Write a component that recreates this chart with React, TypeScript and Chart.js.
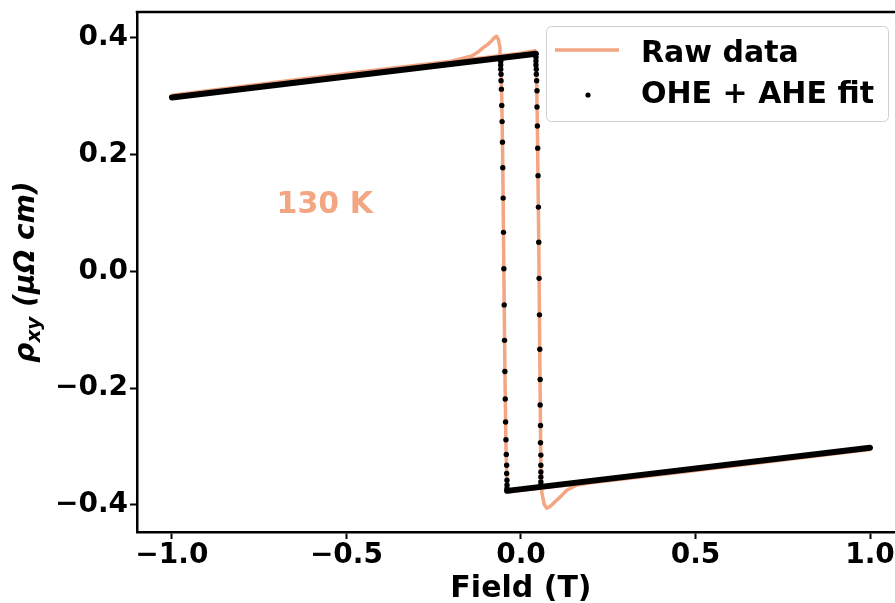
import React, { useEffect, useRef } from "react";
import { Chart, registerables } from "chart.js";

Chart.register(...registerables);

// ---------- data ----------
const rawX = [
  -1.0, -0.5, 0.0, 0.04, 0.044, 0.047, 0.051, 0.054, 0.057, 0.06, 0.067, 0.074, 0.085, 0.097, 0.115, 0.131, 0.16, 0.2, 0.5, 1.0,
  0.5, 0.0, -0.036, -0.04, -0.043, -0.046, -0.049, -0.052, -0.055, -0.058, -0.06, -0.065, -0.07, -0.077, -0.084, -0.095, -0.109, -0.125, -0.141, -0.2, -0.5, -1.0,
];
const rawY = [
  0.302, 0.338, 0.374, 0.378, 0.36, 0.25, 0.05, -0.15, -0.33, -0.38, -0.4, -0.406, -0.402, -0.395, -0.385, -0.375, -0.366, -0.362, -0.341, -0.305,
  -0.341, -0.375, -0.378, -0.36, -0.3, -0.17, 0.0, 0.18, 0.3, 0.36, 0.383, 0.398, 0.403, 0.4, 0.395, 0.389, 0.383, 0.375, 0.369, 0.36, 0.339, 0.302,
];

// fit: flat (saturated) parts, dense enough to look like a solid band
const fitUpperX = [-1.0, 0.043];
const fitUpperY = [0.298, 0.373];
const fitLowerX = [-0.04, 1.0];
const fitLowerY = [-0.376, -0.302];

// fit: points across the two switching steps
const fitDotsX = [
  -0.058, -0.058, -0.058, -0.057, -0.057, -0.056, -0.055, -0.054, -0.053, -0.052, -0.051, -0.05, -0.049, -0.048, -0.047, -0.046, -0.045, -0.044, -0.043, -0.042, -0.041, -0.041, -0.04, -0.04, -0.04,
  0.043, 0.043, 0.043, 0.044, 0.044, 0.045, 0.046, 0.046, 0.047, 0.048, 0.049, 0.05, 0.051, 0.052, 0.053, 0.054, 0.055, 0.055, 0.056, 0.056, 0.057, 0.057, 0.057, 0.057, 0.057, 0.057, 0.057,
];
const fitDotsY = [
  0.36, 0.3538, 0.3463, 0.3378, 0.3266, 0.3123, 0.2845, 0.2567, 0.2215, 0.1777, 0.1256, 0.0669, 0.0046, -0.0574, -0.1181, -0.1716, -0.2186, -0.2581, -0.2884, -0.3135, -0.3322, -0.3463, -0.3578, -0.366, -0.372,
  0.367, 0.3607, 0.3538, 0.3463, 0.3378, 0.3266, 0.3095, 0.2816, 0.2492, 0.2112, 0.1641, 0.1102, 0.0499, -0.0119, -0.0744, -0.1334, -0.1852, -0.2288, -0.264, -0.2935, -0.3147, -0.3322, -0.3436, -0.3521, -0.3606, -0.366,
];

const xTicks = [-1.0, -0.5, 0.0, 0.5, 1.0];
const yTicks = [-0.4, -0.2, 0.0, 0.2, 0.4];
const xLimits = [-1.1, 1.0716];
const yLimits = [-0.4465, 0.4445];

const rawLabel = "Raw data";
const fitLabel = "OHE + AHE fit";
const tempLabel = "130 K";
const tempPos = [-0.7, 0.1];
const xTitle = "Field (T)";
const yTitleMain = "ρ";
const yTitleSub = "xy";
const yTitleUnit = " (μΩ cm)";

// ---------- style ----------
const SALMON = "#F4A582";
const FONT = '"DejaVu Sans", "Liberation Sans", sans-serif';
const FS = 28;
const FL = 30;

const fmt = (v: number) => {
  const s = Number(v).toFixed(1);
  return s.startsWith("-") ? "\u2212" + s.slice(1) : s;
};

const decorPlugin = {
  id: "decor",
  afterDraw(chart: any) {
    const { ctx, chartArea } = chart;
    const xs = chart.scales.x;
    const ys = chart.scales.y;
    ctx.save();
    // top spine
    ctx.strokeStyle = "#000";
    ctx.lineWidth = 2.5;
    ctx.beginPath();
    ctx.moveTo(chartArea.left - 1.25, chartArea.top);
    ctx.lineTo(chart.width, chartArea.top);
    ctx.stroke();

    // temperature label
    ctx.fillStyle = SALMON;
    ctx.font = `bold ${FL}px ${FONT}`;
    ctx.textAlign = "left";
    ctx.textBaseline = "alphabetic";
    ctx.fillText(tempLabel, xs.getPixelForValue(tempPos[0]), ys.getPixelForValue(tempPos[1]));

    // x title
    ctx.fillStyle = "#000";
    ctx.textAlign = "center";
    ctx.fillText(xTitle, xs.getPixelForValue(0), 597);

    // y title (rotated, with subscript)
    const fMain = `italic bold ${FS}px ${FONT}`;
    const fSub = `italic bold ${Math.round(FS * 0.7)}px ${FONT}`;
    const parts = [
      { t: yTitleMain, f: fMain, dy: 0 },
      { t: yTitleSub, f: fSub, dy: 6 },
      { t: yTitleUnit, f: fMain, dy: 0 },
    ];
    let total = 0;
    for (const p of parts) {
      ctx.font = p.f;
      total += ctx.measureText(p.t).width;
    }
    ctx.translate(34, (chartArea.top + chartArea.bottom) / 2);
    ctx.rotate(-Math.PI / 2);
    ctx.textAlign = "left";
    let cx = -total / 2;
    for (const p of parts) {
      ctx.font = p.f;
      ctx.fillText(p.t, cx, p.dy);
      cx += ctx.measureText(p.t).width;
    }
    ctx.setTransform(1, 0, 0, 1, 0, 0);

    // legend
    const bx = 546.5, by = 26.5, bw = 342, bh = 95, r = 5;
    ctx.beginPath();
    ctx.moveTo(bx + r, by);
    ctx.lineTo(bx + bw - r, by);
    ctx.arcTo(bx + bw, by, bx + bw, by + r, r);
    ctx.lineTo(bx + bw, by + bh - r);
    ctx.arcTo(bx + bw, by + bh, bx + bw - r, by + bh, r);
    ctx.lineTo(bx + r, by + bh);
    ctx.arcTo(bx, by + bh, bx, by + bh - r, r);
    ctx.lineTo(bx, by + r);
    ctx.arcTo(bx, by, bx + r, by, r);
    ctx.closePath();
    ctx.fillStyle = "rgba(255,255,255,0.8)";
    ctx.fill();
    ctx.strokeStyle = "#d0d0d0";
    ctx.lineWidth = 1;
    ctx.stroke();

    ctx.strokeStyle = SALMON;
    ctx.lineWidth = 3.5;
    ctx.beginPath();
    ctx.moveTo(555, 50);
    ctx.lineTo(619, 50);
    ctx.stroke();

    ctx.fillStyle = "#000";
    ctx.beginPath();
    ctx.arc(588, 95, 2.6, 0, Math.PI * 2);
    ctx.fill();

    ctx.font = `bold ${FL}px ${FONT}`;
    ctx.textAlign = "left";
    ctx.textBaseline = "alphabetic";
    ctx.fillText(rawLabel, 641, 62);
    ctx.fillText(fitLabel, 641, 103);
    ctx.restore();
  },
};

export default function App() {
  const ref = useRef<HTMLCanvasElement | null>(null);
  useEffect(() => {
    if (!ref.current) return;
    const pts = (xa: number[], ya: number[]) => xa.map((x, i) => ({ x, y: ya[i] }));
    const tickFont = { family: FONT, size: FS, weight: "bold" as const, lineHeight: 1 };
    const chart = new Chart(ref.current, {
      type: "scatter",
      data: {
        datasets: [
          {
            label: fitLabel,
            data: pts(fitDotsX, fitDotsY),
            showLine: false,
            pointRadius: 2.7,
            pointBackgroundColor: "#000",
            pointBorderWidth: 0,
          },
          {
            label: fitLabel + " upper",
            data: pts(fitUpperX, fitUpperY),
            showLine: true,
            borderColor: "#000",
            borderWidth: 6,
            borderCapStyle: "round",
            pointRadius: 0,
          },
          {
            label: fitLabel + " lower",
            data: pts(fitLowerX, fitLowerY),
            showLine: true,
            borderColor: "#000",
            borderWidth: 6,
            borderCapStyle: "round",
            pointRadius: 0,
          },
          {
            label: rawLabel,
            data: pts(rawX, rawY),
            showLine: true,
            borderColor: SALMON,
            borderWidth: 3.5,
            borderJoinStyle: "round",
            tension: 0,
            pointRadius: 0,
          },
        ],
      },
      options: {
        animation: false,
        responsive: false,
        maintainAspectRatio: false,
        layout: { autoPadding: false, padding: { top: 12, right: 0, bottom: 0, left: 0 } },
        plugins: { legend: { display: false }, tooltip: { enabled: false } },
        scales: {
          x: {
            type: "linear",
            min: xLimits[0],
            max: xLimits[1],
            afterBuildTicks: (s: any) => {
              s.ticks = xTicks.map((v) => ({ value: v }));
            },
            afterFit: (s: any) => {
              s.height = 71;
              s.paddingLeft = 0;
              s.paddingRight = 0;
            },
            ticks: {
              font: tickFont,
              color: "#000",
              padding: 3,
              maxRotation: 0,
              autoSkip: false,
              callback: (v: any) => fmt(v),
            },
            grid: { drawOnChartArea: false, drawTicks: true, tickLength: 7, tickWidth: 2, tickColor: "#000" },
            border: { display: true, color: "#000", width: 2.5 },
          },
          y: {
            type: "linear",
            min: yLimits[0],
            max: yLimits[1],
            afterBuildTicks: (s: any) => {
              s.ticks = yTicks.map((v) => ({ value: v }));
            },
            afterFit: (s: any) => {
              s.width = 137;
              s.paddingTop = 0;
              s.paddingBottom = 0;
            },
            ticks: {
              font: tickFont,
              color: "#000",
              padding: 2,
              autoSkip: false,
              callback: (v: any) => fmt(v),
            },
            grid: { drawOnChartArea: false, drawTicks: true, tickLength: 7, tickWidth: 2, tickColor: "#000" },
            border: { display: true, color: "#000", width: 2.5 },
          },
        },
      },
      plugins: [decorPlugin],
    });
    return () => chart.destroy();
  }, []);
  return (
    <div style={{ position: "fixed", left: 0, top: 0, width: 895, height: 603, background: "#fff", overflow: "hidden" }}>
      <canvas ref={ref} width={895} height={603} style={{ width: 895, height: 603, display: "block" }} />
    </div>
  );
}
